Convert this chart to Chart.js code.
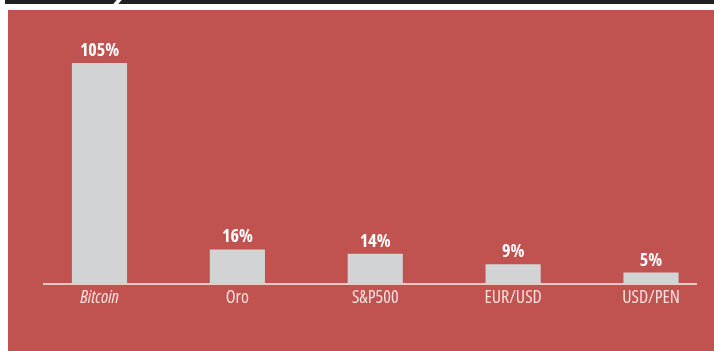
<!DOCTYPE html>
<html><head><meta charset="utf-8">
<script src="https://cdn.jsdelivr.net/npm/chart.js@4/dist/chart.umd.min.js"></script>
<style>
html,body{margin:0;padding:0;background:#fff;width:714px;height:351px;overflow:hidden;}
#band{position:absolute;left:5px;top:0;width:709px;height:4px;background:#231f20;}
#cut{position:absolute;left:110px;top:-2px;width:5px;height:8px;background:#fff;transform:skewX(-40deg);}
#panel{position:absolute;left:8px;top:10px;width:706px;height:341px;background:#c0534f;}
canvas{display:block;}
</style></head><body>
<div id="band"><div id="cut"></div></div>
<div id="panel"><canvas id="c" width="706" height="341"></canvas></div>
<script>
const categories = ["Bitcoin", "Oro", "S&P500", "EUR/USD", "USD/PEN"];
const values = [105, 16, 14, 9, 5];
const valueLabels = ["105%", "16%", "14%", "9%", "5%"];

const valueLabelPlugin = {
  id: 'valueLabels',
  afterDatasetsDraw(chart) {
    const ctx = chart.ctx;
    const meta = chart.getDatasetMeta(0);
    ctx.save();
    ctx.fillStyle = '#ffffff';
    ctx.font = 'bold 18px "Open Sans", sans-serif';
    ctx.fontStretch = 'semi-condensed';
    ctx.textAlign = 'center';
    ctx.textBaseline = 'alphabetic';
    meta.data.forEach((bar, i) => {
      ctx.fillText(valueLabels[i], bar.x, bar.y - 7);
    });
    ctx.restore();
  }
};
const axisLinePlugin = {
  id: 'axisLine',
  beforeDatasetsDraw(chart) {
    const ctx = chart.ctx;
    const y = chart.scales.y.getPixelForValue(0);
    ctx.save();
    ctx.strokeStyle = '#ecc9c7';
    ctx.lineWidth = 2;
    ctx.beginPath();
    ctx.moveTo(35, y + 1);
    ctx.lineTo(689, y + 1);
    ctx.stroke();
    ctx.restore();
  }
};

new Chart(document.getElementById('c'), {
  type: 'bar',
  data: {
    labels: categories,
    datasets: [{
      data: values,
      backgroundColor: '#d1d3d4',
      borderWidth: 0,
      categoryPercentage: 1,
      barPercentage: 0.4,
      clip: false
    }]
  },
  options: {
    responsive: false,
    animation: false,
    layout: { padding: { left: 91.5, right: 63, top: 42.5, bottom: 0 } },
    plugins: { legend: { display: false }, tooltip: { enabled: false } },
    scales: {
      x: {
        offset: false,
        grid: { display: false, drawTicks: false },
        border: { display: false },
        afterFit(scale) { scale.height = 68; },
        ticks: {
          padding: 4,
          color: '#f6e0df',
          maxRotation: 0,
          autoSkip: false,
          font: (c) => ({
            family: '"Open Sans", sans-serif',
            size: 18,
            weight: '400 condensed',
            style: c.index === 0 ? 'italic' : 'normal'
          })
        }
      },
      y: {
        display: false,
        min: 0,
        max: 110
      }
    }
  },
  plugins: [axisLinePlugin, valueLabelPlugin]
});
</script>
</body></html>
